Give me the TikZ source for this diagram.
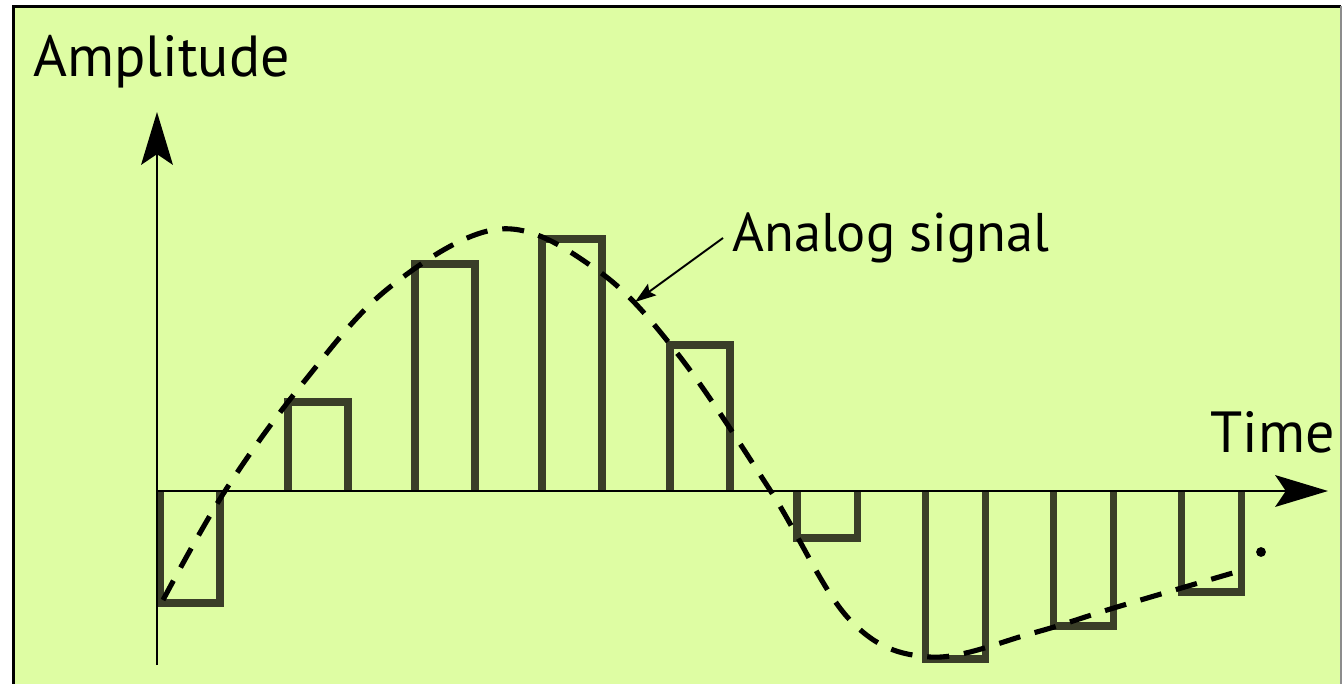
\documentclass[tikz,border=0pt]{standalone}
\usepackage{fontspec}
\setmainfont{PT Sans}
\usetikzlibrary{arrows.meta}
\definecolor{paper}{RGB}{222,253,163}
\definecolor{pulse}{RGB}{58,62,40}
\tikzset{
  axis/.style={line width=1.7pt,-{Stealth[length=30pt,width=18pt,inset=6pt]}},
  sample/.style={draw=pulse,line width=4pt,line join=miter},
  signal/.style={line width=2.9pt,dash pattern=on 12.5pt off 8.5pt},
  label/.style={inner sep=0pt,anchor=base west,font=\fontsize{33}{38}\selectfont}
}
\begin{document}
\begin{tikzpicture}[x=0.2mm,y=-0.2mm]
  \useasboundingbox (0,0) rectangle (1343,684);
  \fill[paper] (13,6) rectangle (1341,684);
  \draw[line width=1.7pt] (13.5,690) -- (13.5,6.5) -- (1341,6.5);
  \draw[black!45,line width=0.6pt] (1341,6) -- (1341,684);
  % axes
  \coordinate (origin) at (157,491);
  \coordinate (ybot) at (157,665);
  \coordinate (ytip) at (157,112);
  \coordinate (xtip) at (1328,491);
  % samples
  \foreach \x/\h in {160/603,288/402,415/264,542/239,670/345,797/538,925/659,1053/626,1181/592}
    \draw[sample] (\x,491) -- (\x,\h) -- (\x+60,\h) -- (\x+60,491);
  \draw[axis] (ybot) -- (ytip);
  \draw[axis] (origin) -- (xtip);
  % analog signal
  \draw[signal] plot[smooth,tension=0.6] coordinates {(163,600) (225,491) (303,383) (390,287) (500,229) (597,270) (677,353) (770,490) (850,620) (930,657) (1033,633) (1117,607) (1243,570)};
  \fill (1261,552) circle (2.8pt);
  \coordinate (sig) at (635,302);
  \node[label] (amp) at (33,77) {Amplitude};
  \node[label] (time) at (1210,452) {Time};
  \node[label,font=\fontsize{31}{36}\selectfont] (analog) at (732,252) {Analog signal};
  \draw[line width=1.1pt,-{Stealth[length=12pt,width=8pt,inset=2pt]}] (723,238) -- (sig);
\end{tikzpicture}
\end{document}
